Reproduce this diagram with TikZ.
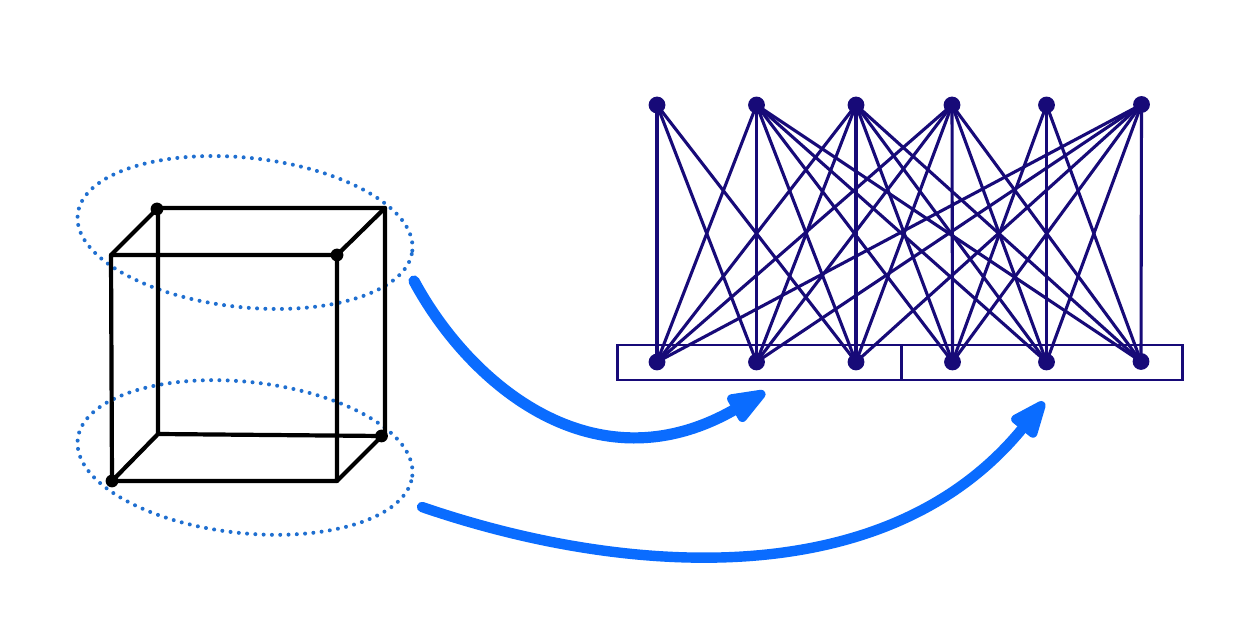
\documentclass[tikz,border=0pt]{standalone}
\usetikzlibrary{arrows.meta}
\definecolor{graphblue}{HTML}{170A78}
\definecolor{ringblue}{HTML}{1F6FD0}
\definecolor{arrowblue}{HTML}{0A6CFF}
% One drawing unit is half a point; y grows downward.
\tikzset{
  x=0.5pt, y=-0.5pt,
  gdot/.style={circle,fill=graphblue,draw=none,minimum size=8.4pt,inner sep=0pt,outer sep=0pt},
  cdot/.style={circle,fill=black,draw=none,minimum size=6.4pt,inner sep=0pt,outer sep=0pt},
  gedge/.style={draw=graphblue,line width=1.55pt},
  gbox/.style={rectangle,draw=graphblue,line width=1.4pt,inner sep=0pt,outer sep=0pt,fill=none},
  cubeedge/.style={draw=black,line width=2.1pt,line cap=round,line join=round},
  ring/.style={draw=ringblue,line width=2pt,line cap=round,dash pattern=on 0pt off 4.15pt},
  flowa/.style={draw=arrowblue,line width=5.6pt,line cap=round,
    -{Triangle[round,length=23pt,width=16pt,line width=4.5pt,fill=arrowblue]}},
  flowb/.style={draw=arrowblue,line width=5.2pt,line cap=round,
    -{Triangle[round,length=22pt,width=16.5pt,line width=4.5pt,fill=arrowblue]}},
}
\begin{document}
\begin{tikzpicture}
\useasboundingbox (0,0) rectangle (1258,640);
\fill[white] (0,0) rectangle (1258,640);

% Grouping rings round the cube's top and bottom faces
\coordinate (ringtop) at (245,232.5);
\coordinate (ringbot) at (245,457.5);
\draw[ring] (ringtop) ellipse [x radius=84.15pt,y radius=37.35pt,rotate=-6.2];
\draw[ring] (ringbot) ellipse [x radius=84.15pt,y radius=37.8pt,rotate=-6.2];

% Cube corners
\coordinate (ftl) at (111,255);
\coordinate (ftr) at (337,255);
\coordinate (fbl) at (112,481);
\coordinate (fbr) at (337,481);
\coordinate (btl) at (158,208);
\coordinate (btr) at (385,208);
\coordinate (bbl) at (158,434);
\coordinate (bbr) at (382,436);
\draw[cubeedge] (ftl) -- (ftr) -- (fbr) -- (fbl) -- cycle;
\draw[cubeedge] (btl) -- (btr) -- (385,434) -- (bbr) -- (bbl) -- cycle;
\draw[cubeedge] (ftl) -- (btl) (ftr) -- (btr) (fbl) -- (bbl) (fbr) -- (bbr);
\node[cdot] (d1) at (157,209) {};
\node[cdot] (d2) at (337,255) {};
\node[cdot] (d3) at (381.5,436) {};
\node[cdot] (d4) at (112,481) {};

% Two-part base under the lower row
\node[gbox,minimum width=142pt,minimum height=17.5pt] (boxl) at (759.5,362.5) {};
\node[gbox,minimum width=140.5pt,minimum height=17.5pt] (boxr) at (1042,362.5) {};

% Upper and lower rows of the bipartite graph
\foreach \n/\x/\y in {1/657/105,2/756.5/105,3/856/105,4/952/105,5/1046.5/105,6/1141.5/104.5}
  \node[gdot] (t\n) at (\x,\y) {};
\foreach \n/\x/\y in {1/657/362,2/756.5/362,3/856/362,4/952.5/362,5/1046.5/362,6/1141/361.5}
  \node[gdot] (b\n) at (\x,\y) {};

\foreach \a/\blist in {1/{1,2,3},2/{1,2,3,4,5,6},3/{1,2,3,4,5,6},4/{1,2,3,4,5,6},5/{4,5,6},6/{1,2,3,4,5,6}}
  \foreach \b in \blist
    \draw[gedge] (t\a.center) -- (b\b.center);

% Arrows from the rings to the graph
\coordinate (from1) at (414,281);
\coordinate (to1) at (765,392);
\coordinate (from2) at (422,507);
\coordinate (to2) at (1044,402);
\draw[flowa] (from1) .. controls (470,385) and (595,490) .. (to1);
\draw[flowb] (from2) .. controls (620,575) and (885,597) .. (to2);
\end{tikzpicture}
\end{document}
